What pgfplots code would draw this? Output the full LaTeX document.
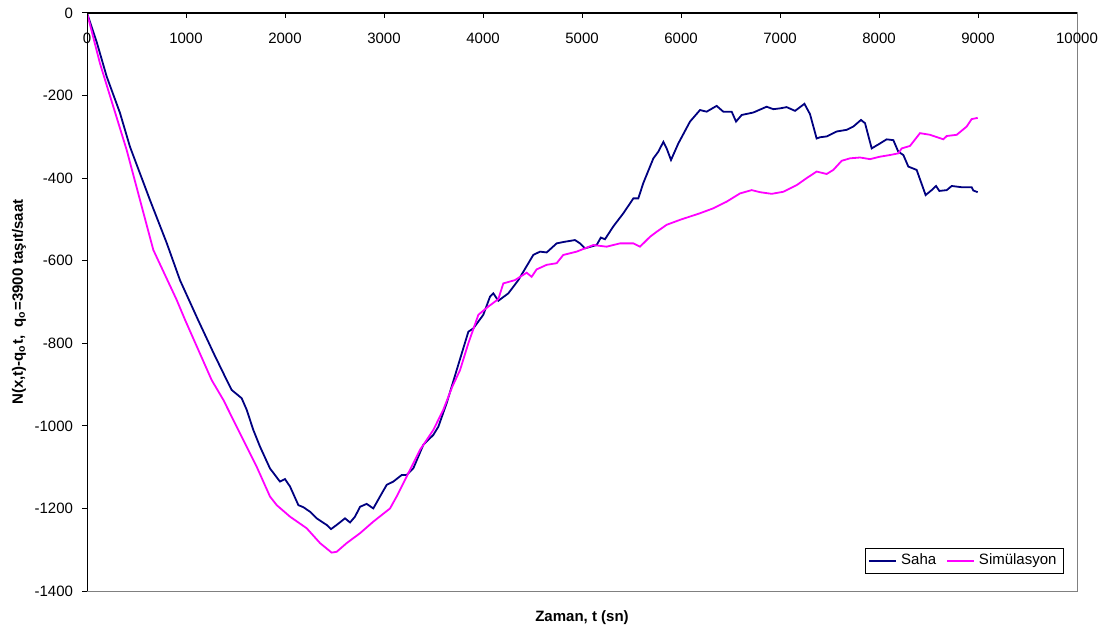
\documentclass[border=0pt]{standalone}
\usepackage{pgfplots}
\pgfplotsset{compat=1.18}
\usepackage{fontspec}
\setmainfont{Liberation Sans}
\definecolor{saha}{HTML}{000080}
\definecolor{sim}{HTML}{FF00FF}
\definecolor{frame}{HTML}{808080}
\begin{document}
\begin{tikzpicture}
\begin{axis}[
  name=ax,
  scale only axis,
  width=495bp, height=289bp,
  xmin=0, xmax=10000, ymin=-1400, ymax=0,
  scaled x ticks=false, scaled y ticks=false,
  font=\fontsize{7.5bp}{9bp}\selectfont,
  axis line style={draw=frame, line width=0.5bp},
  xtick={0,1000,2000,3000,4000,5000,6000,7000,8000,9000,10000},
  xticklabels={0,1000,2000,3000,4000,5000,6000,7000,8000,9000,10000},
  ytick={-1400,-1200,-1000,-800,-600,-400,-200,0},
  yticklabels={-1400,-1200,-1000,-800,-600,-400,-200,0},
  xtick pos=upper, xticklabel pos=upper,
  ytick pos=lower, yticklabel pos=lower,
  xtick align=inside, ytick align=outside,
  major tick length=2.5bp,
  tick style={black, line width=0.5bp},
  xticklabel style={anchor=north, yshift=-6.5bp},
  yticklabel style={anchor=east, xshift=-1bp},
  xlabel={\bfseries Zaman, t (sn)},
  ylabel={\bfseries N(x,t)-q\textsubscript{o}t,\ \ q\textsubscript{o}=3900 taşıt/saat},
  xlabel style={at={(axis description cs:0.5,-0.0467)}, anchor=center},
  ylabel style={at={(axis description cs:-0.0687,0.5)}, anchor=center},
  legend columns=2,
  legend style={at={(axis description cs:0.98687,0.0294)}, anchor=south east,
    draw=black, line width=0.5bp, fill=white, font=\fontsize{7.5bp}{9bp}\selectfont,
    inner xsep=1.5bp, inner ysep=0.8bp, /tikz/every even column/.append style={column sep=3bp}},
]
\addplot[color=saha, line width=0.9bp,
  legend image code/.code={\draw[saha, line width=0.9bp] (0bp,0bp) -- (13.5bp,0bp);}] coordinates {
(0,0) (100,-72) (199,-154) (333,-242) (434,-324) (636,-453) (805,-557) (939,-647)
(1121,-743) (1283,-826) (1411,-889) (1461,-913) (1562,-933) (1613,-961) (1680,-1010)
(1747,-1050) (1848,-1103) (1949,-1135) (2000,-1129) (2051,-1147) (2135,-1192)
(2185,-1197) (2253,-1208) (2320,-1224) (2421,-1240) (2465,-1250) (2522,-1240)
(2606,-1224) (2657,-1234) (2707,-1220) (2758,-1196) (2825,-1189) (2892,-1200)
(2960,-1171) (3027,-1143) (3094,-1135) (3179,-1119) (3229,-1119) (3296,-1103)
(3397,-1046) (3498,-1022) (3549,-1002) (3633,-945) (3734,-865) (3852,-772)
(3902,-764) (4003,-731) (4071,-687) (4104,-679) (4155,-697) (4256,-679) (4357,-647)
(4508,-586) (4576,-578) (4643,-580) (4744,-558) (4828,-554) (4929,-550) (4980,-558)
(5030,-570) (5148,-562) (5190,-544) (5232,-548) (5316,-517) (5418,-485) (5519,-449)
(5569,-449) (5619,-412) (5721,-352) (5771,-336) (5822,-312) (5855,-328) (5899,-356)
(5973,-316) (6091,-263) (6192,-235) (6259,-239) (6360,-225) (6427,-239) (6512,-239)
(6556,-263) (6613,-247) (6731,-241) (6865,-227) (6933,-233) (7000,-231) (7067,-228)
(7152,-237) (7247,-220) (7303,-245) (7370,-304) (7404,-301) (7471,-299) (7572,-287)
(7673,-283) (7741,-275) (7818,-259) (7859,-267) (7926,-328) (8010,-316) (8077,-306)
(8145,-308) (8195,-336) (8246,-344) (8296,-372) (8380,-380) (8471,-441) (8532,-429)
(8576,-419) (8609,-431) (8684,-429) (8734,-419) (8835,-422) (8936,-422) (8953,-430)
(8997,-434)
};
\addlegendentry{Saha}
\addplot[color=sim, line width=0.9bp,
  legend image code/.code={\draw[sim, line width=0.9bp] (0bp,0bp) -- (13.5bp,0bp);}] coordinates {
(0,0) (131,-122) (401,-332) (670,-574) (906,-695) (990,-743) (1259,-889) (1377,-937)
(1545,-1018) (1714,-1099) (1848,-1171) (1916,-1192) (2051,-1220) (2219,-1248)
(2354,-1284) (2471,-1307) (2522,-1305) (2623,-1284) (2758,-1260) (2892,-1232)
(3061,-1200) (3128,-1171) (3229,-1123) (3364,-1058) (3498,-1010) (3599,-961)
(3690,-905) (3768,-865) (3852,-800) (3953,-731) (4054,-711) (4155,-693) (4205,-655)
(4323,-647) (4441,-629) (4491,-639) (4542,-621) (4643,-610) (4744,-606) (4811,-586)
(4946,-578) (5114,-562) (5249,-566) (5384,-558) (5519,-558) (5586,-566) (5687,-542)
(5754,-530) (5855,-513) (5990,-501) (6192,-485) (6327,-473) (6461,-457) (6596,-437)
(6714,-429) (6798,-434) (6916,-438) (7034,-433) (7168,-417) (7269,-400) (7370,-384)
(7471,-390) (7539,-380) (7623,-358) (7707,-352) (7808,-350) (7909,-354) (8010,-348)
(8111,-344) (8195,-340) (8229,-328) (8313,-322) (8414,-291) (8515,-295) (8650,-306)
(8684,-298) (8785,-295) (8886,-275) (8936,-257) (8997,-254)
};
\addlegendentry{Simülasyon}
\draw[black, line width=0.6bp] (rel axis cs:0,0) -- (rel axis cs:0,1) -- (rel axis cs:1,1);
\end{axis}
\path[use as bounding box] ([xshift=-43.5bp,yshift=-20.5bp]ax.south west) rectangle ([xshift=15bp,yshift=6.5bp]ax.north east);
\end{tikzpicture}
\end{document}
